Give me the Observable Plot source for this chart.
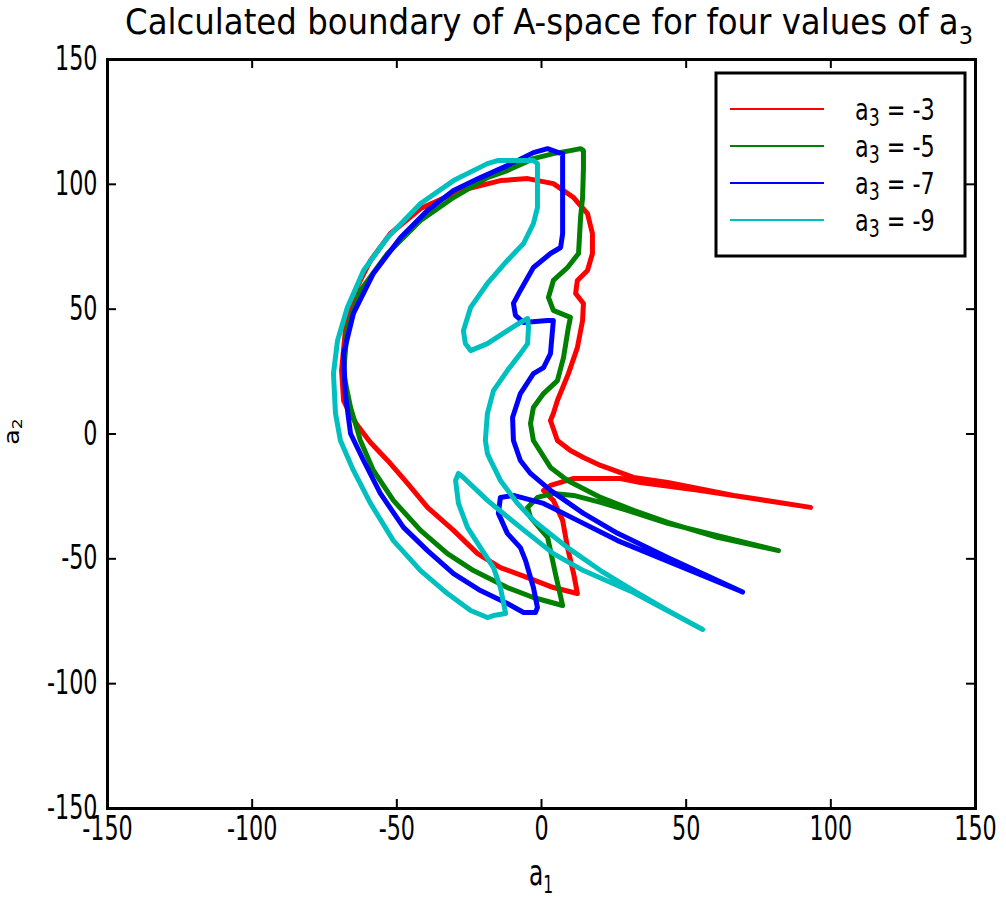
<!DOCTYPE html>
<html>
<head>
<meta charset="utf-8">
<script src="https://cdn.jsdelivr.net/npm/d3@7"></script>
<script src="https://cdn.jsdelivr.net/npm/@observablehq/plot@0.6"></script>
<style>
  body { margin: 0; background: #fff; }
  #wrap { position: relative; width: 1006px; height: 898px; background: #fff; }
  #title {
    height: 40px; padding-top: 2px; padding-left: 92px; box-sizing: content-box;
    line-height: 40px; text-align: center; white-space: nowrap;
    font-family: "DejaVu Sans Condensed", "DejaVu Sans", sans-serif; font-stretch: condensed;
    font-size: 36px; color: #000; margin-bottom: 3px;
  }
  #title sub { font-size: 25px; vertical-align: -10px; line-height: 0; }
  svg { overflow: visible; display: block; }
</style>
</head>
<body>
<div id="wrap">
  <div id="title">Calculated boundary of A-space for four values of a<sub>3</sub></div>
  <div id="chart"></div>
</div>
<script>
// ---- data (a1, a2) pairs ----
const a3Values = ["-3", "-5", "-7", "-9"];
const seriesColors = ["#ff0000", "#008000", "#0000ff", "#00bfbf"];
const xTicks = [-150, -100, -50, 0, 50, 100, 150];
const yTicks = [-150, -100, -50, 0, 50, 100, 150];

const boundaryA3m3 = [
  [93.0,-29.4],[66.4,-24.6],[43.6,-19.4],[31.8,-17.4],[20.4,-12.6],[14.5,-9.4],[10.0,-6.6],[5.5,-2.6],
  [3.1,5.4],[4.1,8.2],[5.5,13.4],[9.3,24.2],[12.4,34.6],[14.2,45.5],[14.5,52.3],[11.8,56.3],[12.4,61.5],
  [15.9,65.5],[17.6,72.3],[17.6,80.3],[15.9,88.3],[11.1,94.7],[4.1,100.3],[-4.8,102.3],[-14.2,101.5],
  [-28.0,97.5],[-41.8,90.3],[-52.2,80.3],[-59.1,69.5],[-64.3,57.5],[-67.8,41.4],[-69.1,25.4],[-68.4,13.4],
  [-66.4,8.6],[-63.6,3.4],[-59.1,-3.4],[-53.2,-10.6],[-46.3,-19.8],[-39.4,-29.4],[-30.4,-38.6],[-22.1,-47.9],
  [-14.2,-53.5],[-4.8,-57.5],[4.1,-61.5],[12.4,-63.9],[11.1,-55.9],[9.0,-45.5],[7.3,-34.6],[4.1,-26.6],
  [0.7,-22.6],[3.1,-20.6],[6.6,-19.4],[11.1,-17.8],[27.3,-17.8],[34.2,-19.4],[55.0,-22.6],[93.0,-29.4]
];
const boundaryA3m5 = [
  [81.9,-46.7],[60.8,-41.4],[43.6,-35.4],[31.8,-30.6],[20.4,-25.4],[9.0,-18.6],[3.1,-13.4],[-2.8,-2.6],
  [-3.8,4.2],[-2.8,10.6],[0.7,16.2],[5.5,21.4],[7.6,30.6],[9.3,42.7],[10.0,46.7],[6.6,48.3],[4.1,49.5],
  [2.4,54.7],[4.1,61.5],[9.0,66.7],[12.8,72.3],[13.5,86.7],[14.2,94.7],[14.5,106.7],[14.5,113.5],[13.5,114.3],
  [10.0,113.5],[4.1,112.3],[-2.8,110.3],[-11.8,105.5],[-18.7,102.7],[-30.4,94.7],[-41.8,85.5],[-53.2,72.3],
  [-62.6,57.5],[-67.1,42.7],[-68.4,24.2],[-66.0,10.6],[-63.6,1.4],[-62.6,-2.6],[-58.1,-14.6],[-51.2,-26.6],
  [-41.8,-38.6],[-32.5,-47.9],[-23.5,-54.7],[-11.8,-61.5],[-2.8,-65.5],[7.3,-68.7],[4.8,-55.9],[3.1,-46.7],
  [2.1,-41.4],[-3.8,-33.4],[-4.8,-29.4],[-1.4,-25.4],[4.1,-23.8],[11.1,-24.6],[20.4,-27.4],[29.7,-30.6],
  [43.6,-35.8],[81.9,-46.7]
];
const boundaryA3m7 = [
  [69.5,-63.3],[43.6,-49.5],[26.3,-39.8],[14.5,-31.8],[3.1,-22.6],[-3.8,-15.8],[-7.3,-10.6],[-9.7,-2.6],
  [-10.0,6.6],[-7.3,16.2],[-2.8,24.2],[0.7,26.6],[3.1,32.2],[4.1,45.5],[2.1,45.5],[-6.2,44.7],[-9.0,47.5],
  [-9.7,52.3],[-7.3,57.5],[-2.8,66.7],[3.1,72.3],[6.6,74.7],[7.3,80.3],[7.3,97.5],[7.3,112.3],[5.9,112.7],
  [2.1,114.3],[-2.8,112.7],[-11.8,107.5],[-21.1,102.7],[-30.4,97.5],[-39.4,89.5],[-48.7,78.7],[-58.1,64.3],
  [-65.0,48.3],[-68.4,32.2],[-67.8,16.2],[-66.0,0.2],[-61.5,-10.6],[-55.7,-23.8],[-47.7,-37.4],[-39.4,-46.7],
  [-30.4,-55.9],[-21.1,-62.7],[-11.8,-67.9],[-6.2,-71.5],[-2.1,-71.5],[-1.4,-69.5],[-2.8,-61.5],[-5.5,-50.7],
  [-7.3,-45.5],[-11.8,-39.8],[-14.9,-31.8],[-14.2,-25.4],[-9.7,-24.6],[0.7,-27.8],[12.4,-34.6],[26.3,-42.7],
  [69.5,-63.3]
];
const boundaryA3m9 = [
  [55.7,-78.3],[43.6,-70.7],[31.8,-62.7],[20.4,-54.7],[9.0,-45.5],[-2.8,-34.6],[-8.3,-27.8],[-14.2,-18.6],
  [-17.6,-10.6],[-18.7,-7.8],[-19.4,-2.6],[-18.7,8.2],[-16.6,17.4],[-11.8,25.4],[-7.3,32.2],[-4.8,36.2],
  [-4.5,42.7],[-4.8,46.3],[-7.3,44.7],[-11.8,41.4],[-18.7,36.2],[-24.5,33.4],[-26.3,36.2],[-27.0,41.4],
  [-24.5,50.7],[-18.7,60.3],[-11.8,69.5],[-6.2,76.3],[-2.8,84.3],[-1.4,90.7],[-1.4,108.3],[-2.8,109.5],
  [-15.2,109.5],[-18.7,108.3],[-30.4,101.5],[-41.8,92.3],[-53.2,78.7],[-61.5,65.5],[-67.1,50.7],[-70.5,37.4],
  [-71.9,24.2],[-71.2,8.2],[-69.5,-2.6],[-65.0,-14.6],[-59.1,-27.8],[-51.2,-42.7],[-41.8,-54.7],[-32.5,-63.9],
  [-24.5,-70.7],[-18.7,-73.5],[-16.6,-72.7],[-12.4,-71.9],[-14.2,-61.5],[-16.6,-53.5],[-21.1,-45.5],
  [-25.6,-37.4],[-28.7,-27.8],[-29.7,-18.6],[-28.7,-15.8],[-27.0,-17.4],[-18.7,-26.6],[-7.3,-37.4],
  [4.1,-47.9],[14.5,-54.7],[31.8,-63.5],[55.7,-78.3]
];

const curves = [boundaryA3m3, boundaryA3m5, boundaryA3m7, boundaryA3m9];
const rows = curves.flatMap((c, i) => c.map(([a1, a2]) => ({a1, a2, a3: a3Values[i]})));

// ---- layout ----
const W = 1006, H = 853;
const mL = 107, mR = 31, mT = 14, mB = 90;
const innerW = W - mL - mR, innerH = H - mT - mB;
const tickLen = 9;
const FONT = "'DejaVu Sans Condensed', 'DejaVu Sans', sans-serif";

const chart = Plot.plot({
  width: W, height: H,
  marginLeft: mL, marginRight: mR, marginTop: mT, marginBottom: mB,
  x: {domain: [-150, 150]},
  y: {domain: [-150, 150]},
  color: {domain: a3Values, range: seriesColors},
  style: {fontFamily: FONT, fontSize: "33px", background: "white", color: "black"},
  marks: [
    Plot.line(rows, {x: "a1", y: "a2", z: "a3", stroke: "a3", strokeWidth: 5,
      strokeLinejoin: "round", strokeLinecap: "round"}),
    Plot.tickX(xTicks, {x: d => d, insetTop: innerH - tickLen, stroke: "black", strokeWidth: 2}),
    Plot.tickX(xTicks, {x: d => d, insetBottom: innerH - tickLen, stroke: "black", strokeWidth: 2}),
    Plot.tickY(yTicks, {y: d => d, insetRight: innerW - tickLen, stroke: "black", strokeWidth: 2}),
    Plot.tickY(yTicks, {y: d => d, insetLeft: innerW - tickLen, stroke: "black", strokeWidth: 2}),
    Plot.axisX(xTicks, {tickSize: 0, tickPadding: 8, tickFormat: d => String(d), label: null, fontSize: 33}),
    Plot.axisY(yTicks, {tickSize: 0, tickPadding: 10, tickFormat: d => String(d), label: null, fontSize: 33}),
    Plot.frame({stroke: "black", strokeWidth: 3})
  ]
});
document.getElementById("chart").appendChild(chart);

const svg = d3.select(chart);

// horizontally condense tick labels
function squish(sel, k) {
  sel.each(function () {
    const t = d3.select(this);
    let tr = t.attr("transform");
    if (!tr || !/translate/.test(tr)) {
      const x = +(t.attr("x") || 0), y = +(t.attr("y") || 0);
      t.attr("x", null).attr("y", null);
      tr = `translate(${x},${y})` + (tr ? " " + tr : "");
    }
    t.attr("transform", tr + ` scale(${k},1)`);
  });
}
squish(svg.selectAll("g[aria-label='x-axis tick label'] text, g[aria-label='y-axis tick label'] text"), 0.75);

// axis labels with subscripts
const xl = svg.append("text")
  .attr("transform", `translate(${mL + innerW / 2},840) scale(0.72,1)`)
  .attr("text-anchor", "middle").attr("font-family", FONT).attr("font-size", 36).attr("fill", "black");
xl.append("tspan").text("a");
xl.append("tspan").attr("font-size", 24).attr("dy", 8).text("1");

const yl = svg.append("text")
  .attr("transform", `translate(19,${mT + innerH / 2 - 2}) rotate(-90) scale(1,0.75)`)
  .attr("text-anchor", "middle").attr("font-family", FONT).attr("font-size", 28).attr("fill", "black");
yl.append("tspan").text("a");
yl.append("tspan").attr("font-size", 19).attr("dy", 4).text("2");

// legend
const lg = svg.append("g").attr("text-anchor", "start");
lg.append("rect").attr("x", 716).attr("y", 28).attr("width", 249).attr("height", 183)
  .attr("fill", "white").attr("stroke", "black").attr("stroke-width", 3);
a3Values.forEach((v, i) => {
  const yy = 64 + i * 37;
  lg.append("line").attr("x1", 730).attr("x2", 824).attr("y1", yy).attr("y2", yy)
    .attr("stroke", seriesColors[i]).attr("stroke-width", 2);
  const t = lg.append("text").attr("transform", `translate(855,${yy + 11}) scale(0.8,1)`)
    .attr("text-anchor", "start")
    .attr("font-family", FONT).attr("font-size", 31).attr("fill", "black");
  t.append("tspan").text("a");
  t.append("tspan").attr("font-size", 24).attr("dy", 6).text("3");
  t.append("tspan").attr("dy", -6).text(" = " + v);
});
</script>
</body>
</html>
